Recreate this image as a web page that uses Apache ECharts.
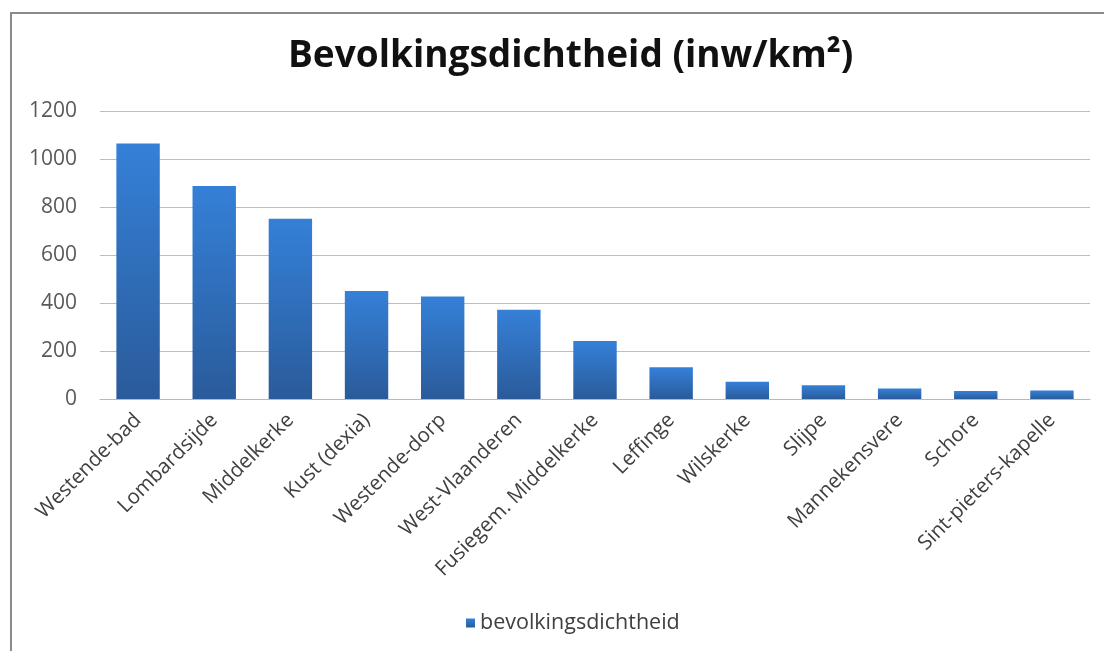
<!DOCTYPE html>
<html>
<head>
<meta charset="utf-8">
<script src="https://cdn.jsdelivr.net/npm/echarts@6/dist/echarts.min.js"></script>
<style>
  html, body { margin: 0; padding: 0; background: #fff; }
  #chart { width: 1104px; height: 651px; }
</style>
</head>
<body>
<div id="chart"></div>
<script>
// Population density per district (inhabitants per km²)
const titleText = 'Bevolkingsdichtheid (inw/km²)';
const seriesName = 'bevolkingsdichtheid';
const categories = [
  'Westende-bad', 'Lombardsijde', 'Middelkerke', 'Kust (dexia)', 'Westende-dorp',
  'West-Vlaanderen', 'Fusiegem. Middelkerke', 'Leffinge', 'Wilskerke', 'Slijpe',
  'Mannekensvere', 'Schore', 'Sint-pieters-kapelle'
];
const densities = [1065, 888, 751, 450, 427, 372, 242, 132, 72, 57, 44, 33, 35];
const yTicks = { min: 0, max: 1200, interval: 200 };

const chart = echarts.init(document.getElementById('chart'), null, { renderer: 'canvas' });

const barFill = new echarts.graphic.LinearGradient(0, 0, 0, 1, [
  { offset: 0, color: '#3580d8' },
  { offset: 1, color: '#2a5b9a' }
]);

chart.setOption({
  backgroundColor: '#ffffff',
  animation: false,
  textStyle: { fontFamily: 'Open Sans' },
  title: {
    text: titleText,
    left: 283,
    top: 33,
    textStyle: { fontSize: 37, fontWeight: 'bold', color: '#111', fontFamily: 'Open Sans' }
  },
  legend: {
    bottom: 12,
    left: 461,
    itemWidth: 9,
    itemHeight: 9,
    itemGap: 7,
    icon: 'rect',
    textStyle: { fontSize: 21.5, color: '#404040' },
    data: [seriesName]
  },
  grid: { left: 100, right: 14, top: 111, bottom: 252 },
  xAxis: {
    type: 'category',
    data: categories,
    axisTick: { show: false },
    axisLine: { lineStyle: { color: '#b8b8b8', width: 1 } },
    axisLabel: { rotate: 45, fontSize: 20.5, color: '#404040', margin: 18, interval: 0 }
  },
  yAxis: {
    type: 'value',
    min: yTicks.min,
    max: yTicks.max,
    interval: yTicks.interval,
    axisLine: { show: false },
    axisTick: { show: false },
    axisLabel: { fontSize: 21, color: '#595959', margin: 23, formatter: (v) => String(v) },
    splitLine: { lineStyle: { color: '#bdbdbd', width: 1 } }
  },
  series: [{
    name: seriesName,
    type: 'bar',
    data: densities,
    barCategoryGap: '43%',
    itemStyle: { color: barFill }
  }],
  graphic: [{
    type: 'polyline',
    shape: { points: [[11, 651], [11, 13], [1104, 13]] },
    style: { stroke: '#8a8a8a', lineWidth: 2, fill: null },
    silent: true
  }]
});
</script>
</body>
</html>
